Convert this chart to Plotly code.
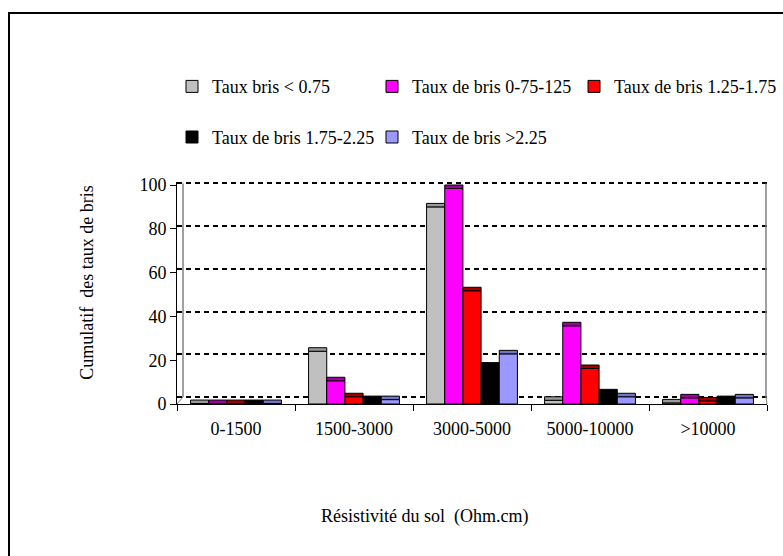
import plotly.graph_objects as go

# Soil resistivity classes (x categories)
categories = ["0-1500", "1500-3000", "3000-5000", "5000-10000", ">10000"]

# Break-rate classes (one series each)
series_names = [
    "Taux bris < 0.75",
    "Taux de bris 0-75-125",
    "Taux de bris 1.25-1.75",
    "Taux de bris 1.75-2.25",
    "Taux de bris >2.25",
]
taux_lt_075 = [0.2, 24.1, 90.0, 1.7, 0.5]
taux_075_125 = [0.2, 10.6, 98.4, 35.7, 2.8]
taux_125_175 = [0.2, 3.3, 51.7, 16.2, 1.4]
taux_175_225 = [0.2, 2.0, 17.3, 5.1, 2.0]
taux_gt_225 = [0.2, 2.0, 22.9, 3.3, 2.8]

y_ticks = [0, 20, 40, 60, 80, 100]

series_values = [taux_lt_075, taux_075_125, taux_125_175, taux_175_225, taux_gt_225]
face_colors = ["#C0C0C0", "#FF00FF", "#FF0000", "#000000", "#9999FF"]
top_colors = ["#9A9A9A", "#A000A0", "#A00000", "#000000", "#7373C0"]
CAP = 1.6  # thickness of the shaded top face of each column

FONT = "Liberation Serif"

# page geometry
W, H = 783, 556
L, R, T, B = 177, 16, 182, 152
PW, PH = W - L - R, H - T - B
Y_RANGE = [0, PH / 2.19]
WALL_RANGE = [-3.28, 100.7]


def px(xp, yp):
    return (xp - L) / PW, (H - B - yp) / PH


def wall_y(v):
    lo, hi = WALL_RANGE
    return (v - lo) / (hi - lo)


fig = go.Figure()

legend_pos = [(172, 86.7), (372, 86.7), (574, 86.7), (172, 137.3), (372, 137.3)]
legend_keys = ["legend", "legend2", "legend3", "legend4", "legend5"]

for i, (name, vals) in enumerate(zip(series_names, series_values)):
    fig.add_trace(go.Bar(
        x=categories, y=vals, name=name,
        marker=dict(color=face_colors[i], line=dict(color="black", width=1)),
        offsetgroup=str(i), legend=legend_keys[i],
    ))
    fig.add_trace(go.Bar(
        x=categories, y=[CAP] * len(vals), base=vals,
        marker=dict(color=top_colors[i], line=dict(color="black", width=1)),
        offsetgroup=str(i), showlegend=False, legend=legend_keys[i],
        hoverinfo="skip",
    ))

legends = {}
for key, (lx, ly) in zip(legend_keys, legend_pos):
    x, y = px(lx, ly)
    legends[key] = dict(
        x=x, y=y, xanchor="left", yanchor="middle", orientation="v",
        font=dict(family=FONT, size=18, color="black"),
        bgcolor="rgba(0,0,0,0)", borderwidth=0,
    )

# back wall outline and floor edges
gx0, gx1 = 6 / PW, 589 / PW
shapes = [
    dict(type="line", xref="paper", yref="paper", x0=gx0, x1=gx0,
         y0=wall_y(0), y1=wall_y(100), line=dict(color="#808080", width=1.5)),
    dict(type="line", xref="paper", yref="paper", x0=gx1, x1=gx1,
         y0=wall_y(0), y1=wall_y(100), line=dict(color="#808080", width=1.5)),
    dict(type="line", xref="paper", yref="paper", x0=0, x1=gx0,
         y0=0, y1=wall_y(0), line=dict(color="#808080", width=1)),
    dict(type="line", xref="paper", yref="paper", x0=1, x1=gx1,
         y0=0, y1=wall_y(0), line=dict(color="#808080", width=1)),
]
# outer chart frame
fx0, fy1 = px(9, 13)
fx1, fy0 = px(W + 40, H + 40)
shapes.append(dict(type="rect", xref="paper", yref="paper",
                   x0=fx0, x1=fx1, y0=fy0, y1=fy1,
                   line=dict(color="black", width=2), fillcolor="rgba(0,0,0,0)"))

ax, ay = px(424.5, 516.7)
tx, ty = px(86.7, 283)
annotations = [
    dict(text="Résistivité du sol  (Ohm.cm)", xref="paper", yref="paper",
         x=ax, y=ay, xanchor="center", yanchor="middle", showarrow=False,
         font=dict(family=FONT, size=18, color="black")),
    dict(text="Cumulatif  des taux de bris", xref="paper", yref="paper",
         x=tx, y=ty, xanchor="center", yanchor="middle", showarrow=False,
         textangle=-90, font=dict(family=FONT, size=18, color="black")),
]

fig.update_layout(
    width=W, height=H,
    margin=dict(l=L, r=R, t=T, b=B, autoexpand=False),
    paper_bgcolor="white", plot_bgcolor="rgba(0,0,0,0)",
    barmode="group", bargap=0.23, bargroupgap=0,
    font=dict(family=FONT, size=18, color="black"),
    xaxis=dict(
        type="category", categoryorder="array", categoryarray=categories,
        showline=True, linecolor="black", linewidth=1,
        ticks="outside", tickson="boundaries", ticklen=6, tickcolor="black",
        tickfont=dict(family=FONT, size=18, color="black"),
        ticklabelstandoff=8, showgrid=False, zeroline=False,
    ),
    yaxis=dict(
        range=Y_RANGE, tickvals=y_ticks, showline=True, linecolor="black",
        linewidth=1, ticks="outside", ticklen=6, tickcolor="black",
        tickfont=dict(family=FONT, size=18, color="black"),
        showgrid=False, zeroline=False,
    ),
    yaxis2=dict(
        overlaying="y", range=WALL_RANGE, tickvals=y_ticks, showticklabels=False,
        showgrid=True, gridcolor="black", gridwidth=1.5, griddash="5px,4px",
        zeroline=False, showline=False, ticks="",
    ),
    shapes=shapes, annotations=annotations,
    **legends,
)

# invisible point so the wall grid axis is drawn
fig.add_trace(go.Scatter(x=[categories[0]], y=[0], yaxis="y2", mode="markers",
                         marker=dict(opacity=0), showlegend=False, hoverinfo="skip"))

fig.write_html("out.html")
